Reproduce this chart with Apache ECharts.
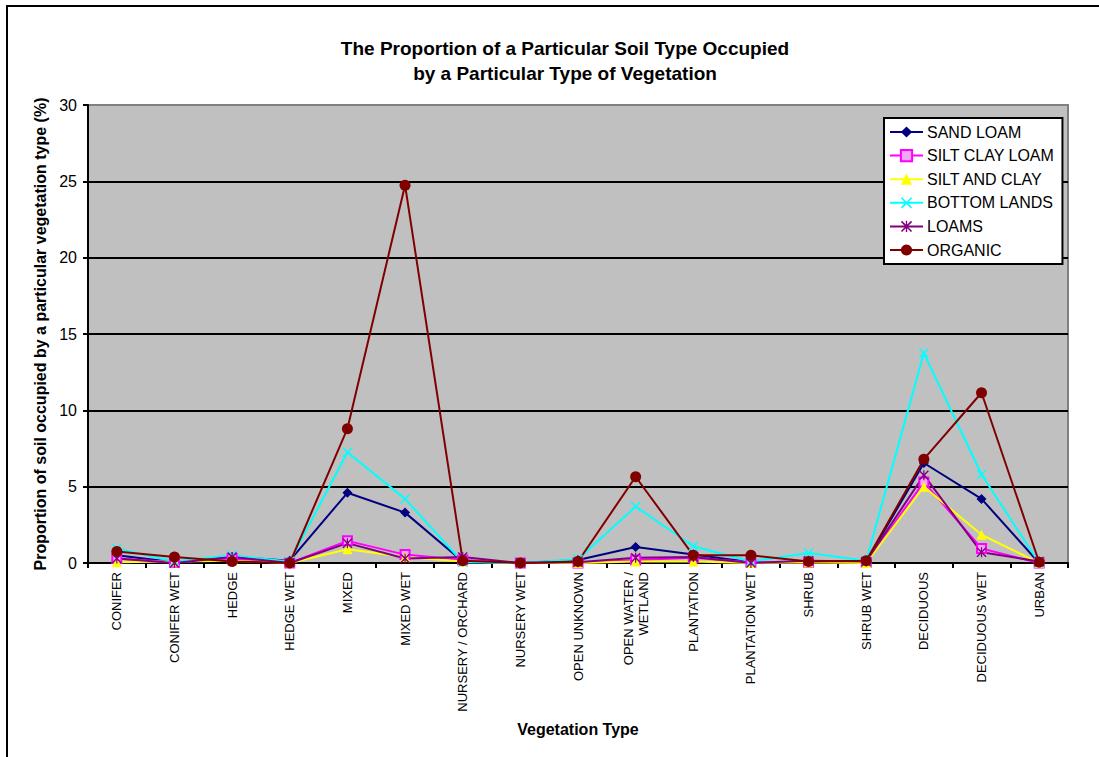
<!DOCTYPE html>
<html>
<head>
<meta charset="utf-8">
<script src="https://cdn.jsdelivr.net/npm/echarts@6/dist/echarts.min.js"></script>
<style>
  html, body { margin: 0; padding: 0; background: #fff; }
  #chart { width: 1099px; height: 757px; }
</style>
</head>
<body>
<div id="chart"></div>
<script>
// Vegetation types along the x axis
const categories = [
  'CONIFER', 'CONIFER WET', 'HEDGE', 'HEDGE WET', 'MIXED', 'MIXED WET',
  'NURSERY / ORCHARD', 'NURSERY WET', 'OPEN UNKNOWN', 'OPEN WATER /\nWETLAND',
  'PLANTATION', 'PLANTATION WET', 'SHRUB', 'SHRUB WET', 'DECIDUOUS',
  'DECIDUOUS WET', 'URBAN'
];

// Percent of each soil type occupied by each vegetation type
const sandLoam     = [0.5, 0.05, 0.4, 0.15, 4.6, 3.3, 0.1, 0.0, 0.2, 1.05, 0.55, 0.05, 0.05, 0.1, 6.55, 4.2, 0.0];
const siltClayLoam = [0.3, 0.05, 0.3, 0.0, 1.45, 0.55, 0.2, 0.0, 0.0, 0.2, 0.35, 0.05, 0.05, 0.05, 5.3, 0.95, 0.0];
const siltAndClay  = [0.05, 0.1, 0.15, 0.0, 0.9, 0.4, 0.1, 0.0, 0.0, 0.1, 0.1, 0.0, 0.05, 0.0, 5.0, 1.85, 0.0];
const bottomLands  = [0.95, 0.1, 0.5, 0.1, 7.25, 4.2, 0.05, 0.0, 0.25, 3.7, 1.1, 0.1, 0.65, 0.15, 13.75, 5.8, 0.0];
const loams        = [0.3, 0.0, 0.4, 0.0, 1.3, 0.3, 0.4, 0.0, 0.05, 0.35, 0.4, 0.0, 0.15, 0.1, 5.75, 0.7, 0.1];
const organic      = [0.75, 0.4, 0.1, 0.0, 8.8, 24.75, 0.15, 0.0, 0.1, 5.65, 0.5, 0.5, 0.1, 0.15, 6.8, 11.15, 0.05];

const seriesNames = ['SAND LOAM', 'SILT CLAY LOAM', 'SILT AND CLAY', 'BOTTOM LANDS', 'LOAMS', 'ORGANIC'];

// Marker shapes
const X_MARK = 'path://M0,1 L1,0 L5,4 L9,0 L10,1 L6,5 L10,9 L9,10 L5,6 L1,10 L0,9 L4,5 Z';
const STAR_MARK = 'path://M0,1 L1,0 L5,4 L9,0 L10,1 L6,5 L10,9 L9,10 L5,6 L1,10 L0,9 L4,5 Z M4.4,0 L5.6,0 L5.6,10 L4.4,10 Z';

const FONT = '"Liberation Sans", Arial, sans-serif';

function lineSeries(name, data, color, symbol, size, extraItem) {
  return {
    name: name,
    type: 'line',
    data: data,
    symbol: symbol,
    symbolSize: size,
    showAllSymbol: true,
    lineStyle: { color: color, width: 2 },
    itemStyle: Object.assign({ color: color, borderWidth: 0 }, extraItem || {}),
    emphasis: { disabled: true },
    animation: false
  };
}

const chart = echarts.init(document.getElementById('chart'), null, { renderer: 'svg' });

chart.setOption({
  backgroundColor: '#ffffff',
  animation: false,
  title: {
    text: 'The Proportion of a Particular Soil Type Occupied\nby a Particular Type of Vegetation',
    left: 560,
    top: 31,
    textAlign: 'center',
    textStyle: { fontFamily: FONT, fontSize: 19, fontWeight: 'bold', color: '#000', lineHeight: 25 }
  },
  graphic: [{
    type: 'rect',
    shape: { x: 7, y: 6, width: 1200, height: 900 },
    style: { fill: 'none', stroke: '#000', lineWidth: 2 },
    silent: true,
    z: 100
  }],
  legend: {
    orient: 'vertical',
    left: 884,
    top: 118,
    padding: [6, 8, 6, 5],
    itemWidth: 33,
    itemHeight: 14,
    itemGap: 7.6,
    backgroundColor: '#ffffff',
    borderColor: '#000',
    borderWidth: 2,
    data: seriesNames,
    textStyle: { fontFamily: FONT, fontSize: 16, color: '#000', padding: [0, 0, 0, -1] }
  },
  grid: {
    left: 88,
    top: 105,
    right: 31,
    bottom: 194,
    show: true,
    backgroundColor: '#C0C0C0',
    borderColor: '#808080',
    borderWidth: 2
  },
  xAxis: {
    type: 'category',
    data: categories,
    boundaryGap: true,
    name: 'Vegetation Type',
    nameLocation: 'middle',
    nameGap: 158,
    nameTextStyle: { fontFamily: FONT, fontSize: 16, fontWeight: 'bold', color: '#000' },
    axisLine: { lineStyle: { color: '#000', width: 2 } },
    axisTick: { show: true, inside: false, length: 5, alignWithLabel: false, lineStyle: { color: '#000', width: 2 } },
    axisLabel: {
      rotate: 90,
      interval: 0,
      margin: 9,
      fontFamily: FONT,
      fontSize: 13,
      color: '#000',
      lineHeight: 15
    },
    splitLine: { show: false }
  },
  yAxis: {
    type: 'value',
    min: 0,
    max: 30,
    interval: 5,
    name: 'Proportion of soil occupied by a particular vegetation type (%)',
    nameLocation: 'middle',
    nameRotate: 90,
    nameGap: 35,
    nameTextStyle: { fontFamily: FONT, fontSize: 16, fontWeight: 'bold', color: '#000' },
    axisLine: { show: true, lineStyle: { color: '#000', width: 2 } },
    axisTick: { show: true, inside: false, length: 5, lineStyle: { color: '#000', width: 2 } },
    axisLabel: { fontFamily: FONT, fontSize: 16, color: '#000', margin: 11 },
    splitLine: { show: true, showMaxLine: false, lineStyle: { color: '#000', width: 2 } }
  },
  series: [
    lineSeries(seriesNames[0], sandLoam, '#000080', 'diamond', 10),
    lineSeries(seriesNames[1], siltClayLoam, '#FF00FF', 'rect', 9, { color: '#F4A6F4', borderColor: '#FF00FF', borderWidth: 2 }),
    lineSeries(seriesNames[2], siltAndClay, '#FFFF00', 'triangle', 10),
    lineSeries(seriesNames[3], bottomLands, '#00FFFF', X_MARK, 10),
    lineSeries(seriesNames[4], loams, '#800080', STAR_MARK, 10),
    lineSeries(seriesNames[5], organic, '#800000', 'circle', 11)
  ]
});
</script>
</body>
</html>
